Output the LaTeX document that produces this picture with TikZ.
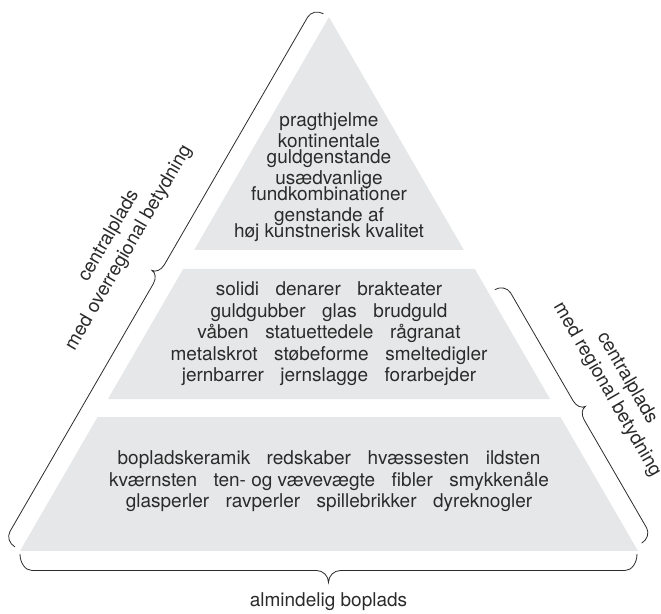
\documentclass[tikz,border=0pt]{standalone}
\usepackage{fontspec}
\setmainfont{TeX Gyre Heros}
\usetikzlibrary{calc}
\definecolor{tierfill}{HTML}{E6E7E8}
\definecolor{ink}{HTML}{2B2B2B}
\newcommand\wsep{\hspace{16.5pt}}
\tikzset{
  tierbox/.style={fill=tierfill,draw=none},
  tiertext/.style={anchor=base,inner sep=0pt,text=ink,font=\fontsize{19}{19}\selectfont},
  lbl/.style={inner sep=0pt,text=ink,align=center,font=\fontsize{19}{23}\selectfont},
  bracestyle/.style={draw=ink,line width=0.8pt},
  pics/curly/.style n args={4}{code={%
    \draw[bracestyle] (0,0) .. controls (0,{0.55*#2}) and ({0.45*#4},#2) .. (#4,#2)
      -- ({#1/2-#4},#2) .. controls ({#1/2-0.45*#4},#2) and ({#1/2},{#2+0.45*#3}) .. ({#1/2},{#2+#3})
      .. controls ({#1/2},{#2+0.45*#3}) and ({#1/2+0.45*#4},#2) .. ({#1/2+#4},#2)
      -- ({#1-#4},#2) .. controls ({#1-0.45*#4},#2) and (#1,{0.55*#2}) .. (#1,0);
  }}
}
\begin{document}
\begin{tikzpicture}[x=1pt,y=1pt]
\useasboundingbox (0,0) rectangle (661,613);
\coordinate (A) at (329,596);
\coordinate (BL) at (20,62);
\coordinate (BR) at (638,62);
% tiers
\fill[tierbox] (A) -- ($(A)!0.4363!(BR)$) -- ($(A)!0.4363!(BL)$) -- cycle;
\fill[tierbox] ($(A)!0.4719!(BL)$) -- ($(A)!0.4719!(BR)$) -- ($(A)!0.7154!(BR)$) -- ($(A)!0.7154!(BL)$) -- cycle;
\fill[tierbox] ($(A)!0.7491!(BL)$) -- ($(A)!0.7491!(BR)$) -- (BR) -- (BL) -- cycle;
% top tier text
\foreach \nm/\yy/\txt in {t1/486/pragthjelme, t2/465/kontinentale, t3/449/guldgenstande,
  t4/428/usædvanlige, t5/412/fundkombinationer, t6/391/genstande af, t7/375/høj kunstnerisk kvalitet}
  \node[tiertext] (\nm) at (329,\yy) {\txt};
% middle tier text
\foreach \nm/\yy/\txt in {m1/317/solidi\wsep denarer\wsep brakteater,
  m2/295/guldgubber\wsep glas\wsep brudguld,
  m3/274/våben\wsep statuettedele\wsep rågranat,
  m4/252/metalskrot\wsep støbeforme\wsep smeltedigler,
  m5/231/jernbarrer\wsep jernslagge\wsep forarbejder}
  \node[tiertext] (\nm) at (329,\yy) {\txt};
% bottom tier text
\foreach \nm/\yy/\txt in {b1/148/bopladskeramik\wsep redskaber\wsep hvæssesten\wsep ildsten,
  b2/126/kværnsten\wsep ten- og vævevægte\wsep fibler\wsep smykkenåle,
  b3/105/glasperler\wsep ravperler\wsep spillebrikker\wsep dyreknogler}
  \node[tiertext] (\nm) at (329,\yy) {\txt};
% braces
\pic at (14.9,66.1) [rotate=59.94] {curly={616}{12}{8}{11}};
\pic at ($(A)!319/617!(BR)+(6.1,3.5)$) [rotate=-59.94] {curly={293}{12}{8}{11}};
\pic at (637,59) [rotate=180] {curly={617}{16.5}{12}{12}};
% labels
\node[lbl,rotate=59.94] (lleft) at (119,371) {centralplads\\med overregional betydning};
\node[lbl,rotate=-59.94] (lright) at (617,229) {centralplads\\med regional betydning};
\node[lbl,anchor=base] (lbot) at (328.5,7) {almindelig boplads};
\end{tikzpicture}
\end{document}
